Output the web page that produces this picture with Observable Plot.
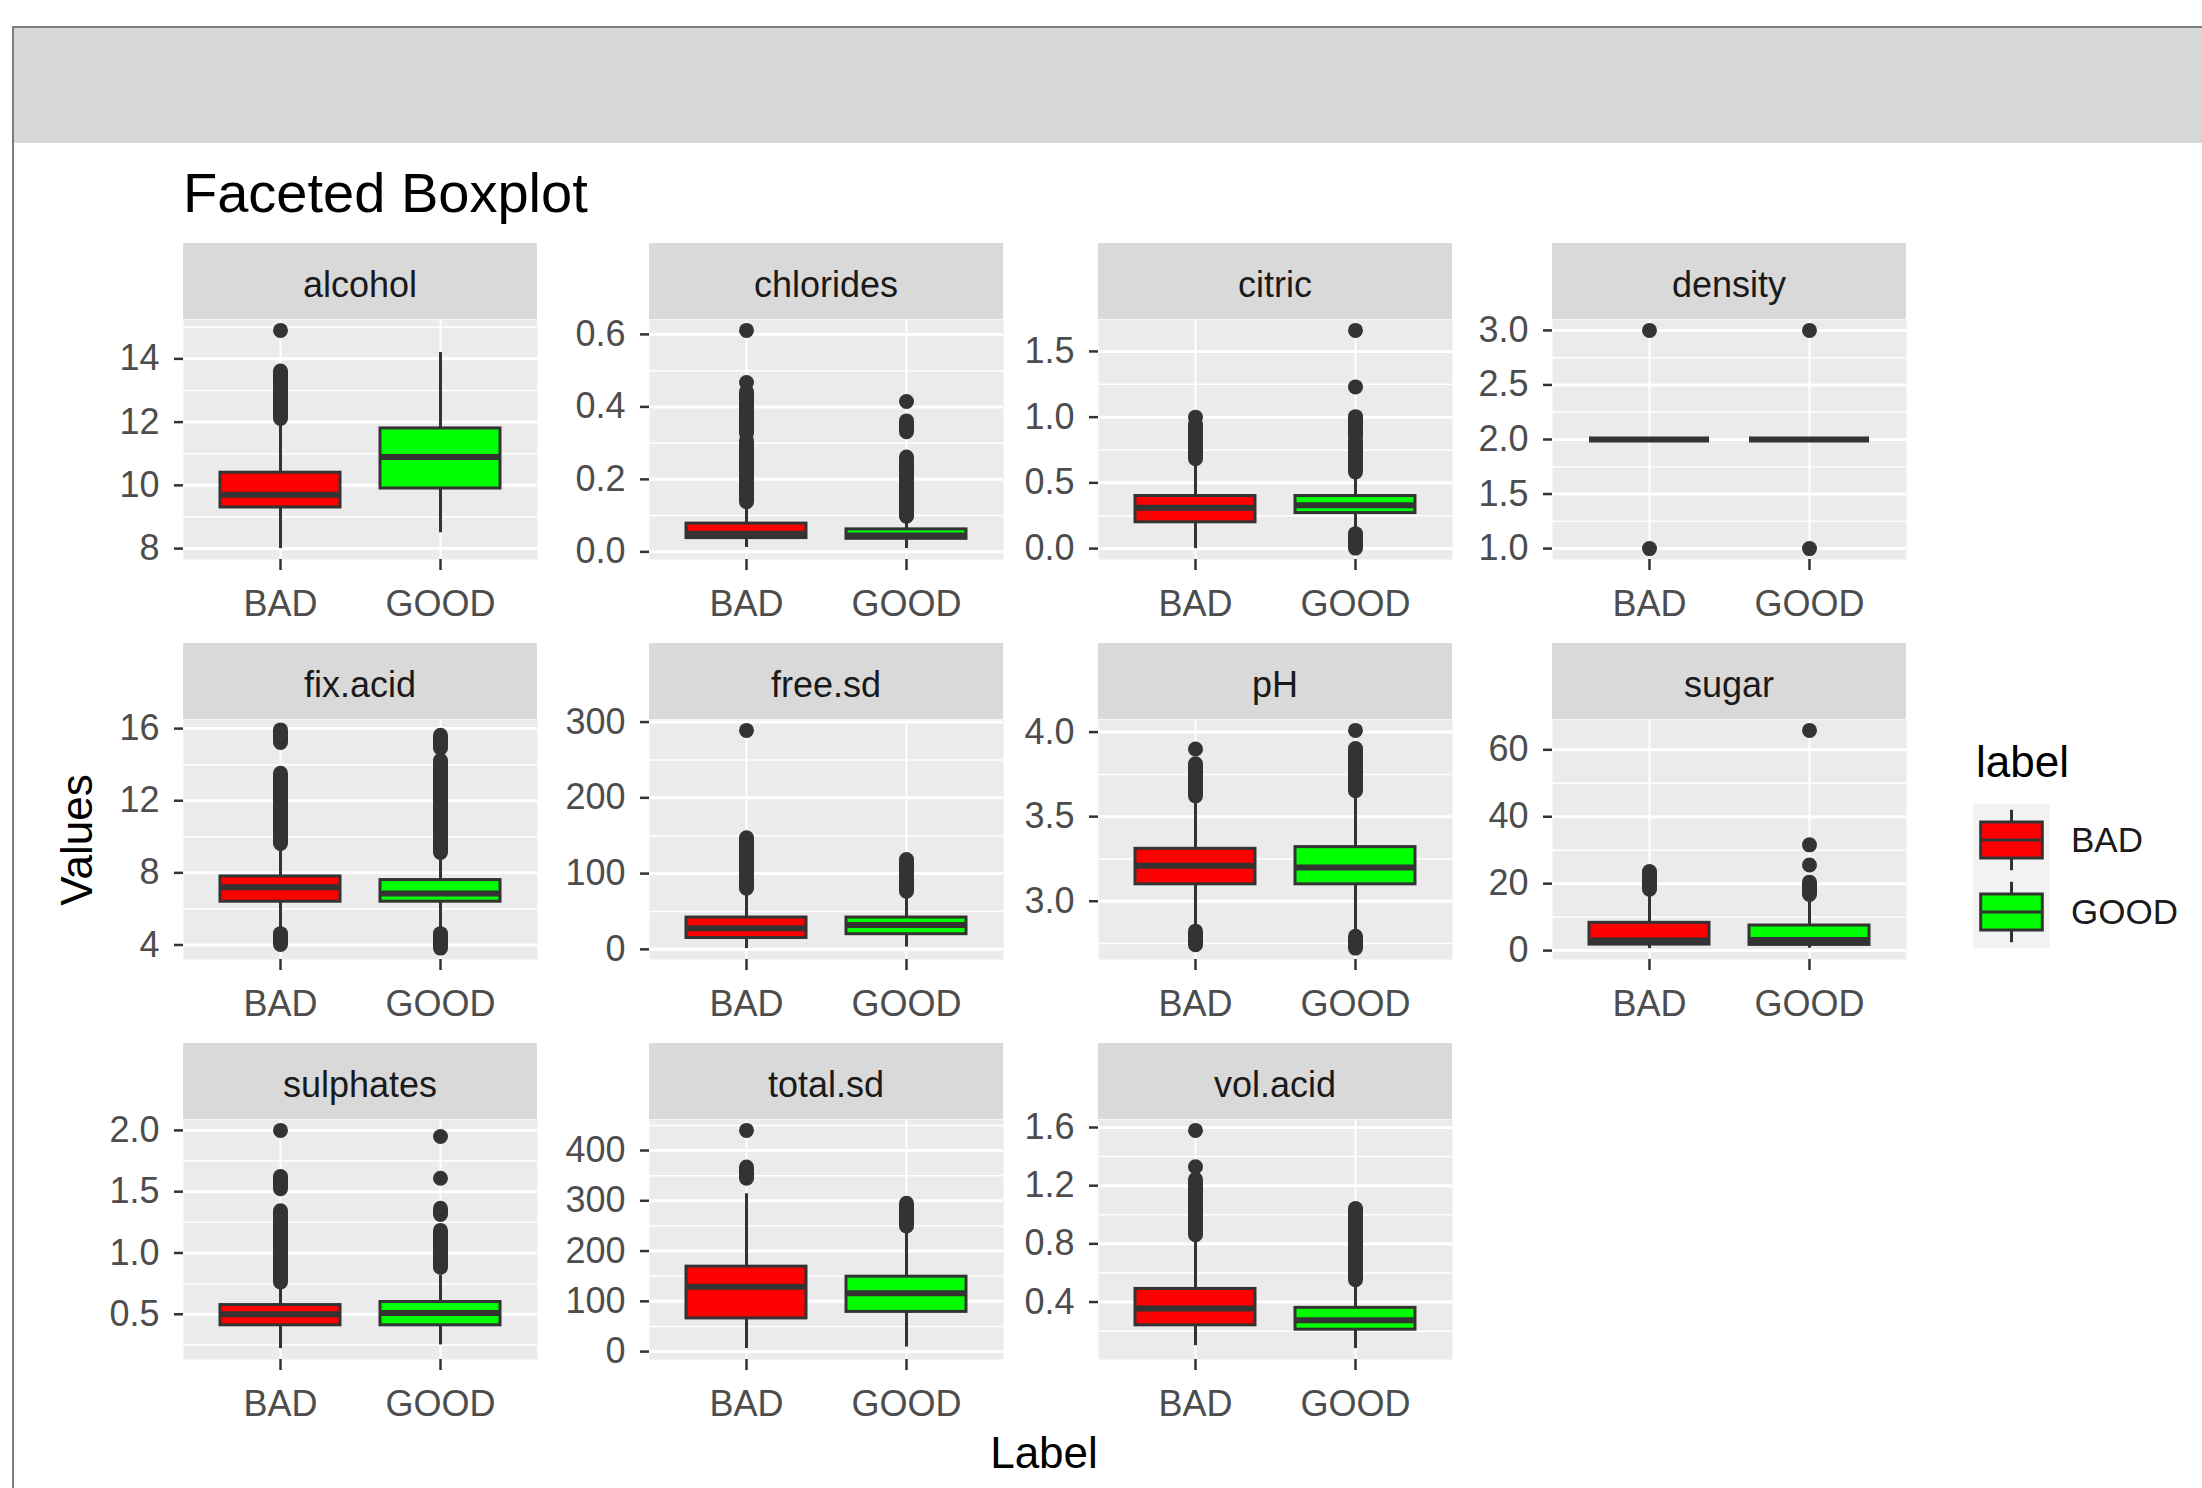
<!DOCTYPE html>
<html><head><meta charset="utf-8">
<script src="https://cdn.jsdelivr.net/npm/d3@7"></script>
<script src="https://cdn.jsdelivr.net/npm/@observablehq/plot@0.6"></script>
<style>
body{margin:0;background:#fff;font-family:"Liberation Sans",Arial,sans-serif;}
#root{position:relative;width:2202px;height:1488px;overflow:hidden;background:#fff;}
.abs{position:absolute;}
.strip{position:absolute;background:#D9D9D9;color:#1A1A1A;font-size:36px;display:flex;align-items:center;justify-content:center;box-sizing:border-box;padding-top:8px;}
</style></head><body><div id="root"></div><script>
// ---------------- data ----------------
const facets = ["alcohol","chlorides","citric","density","fix.acid","free.sd","pH","sugar","sulphates","total.sd","vol.acid"];
const groups = ["BAD","GOOD"];
const fillColors = ["#FF0000","#00FF00"];
// per facet: [BAD, GOOD]
const lowerWhisker = [[8.0,8.5],[0.012,0.009],[0.0,0.13],[2,2],[4.7,4.8],[1,3],[2.83,2.80],[0.6,0.7],[0.22,0.25],[6,9],[0.10,0.08]];
const q1 = [[9.3,9.9],[0.038,0.036],[0.20,0.27],[2,2],[6.4,6.4],[15,20],[3.10,3.10],[1.8,1.7],[0.41,0.41],[66,79],[0.24,0.21]];
const median = [[9.7,10.9],[0.050,0.045],[0.31,0.33],[2,2],[7.2,6.85],[28,32],[3.21,3.20],[3.0,3.2],[0.50,0.51],[129,116],[0.355,0.275]];
const q3 = [[10.4,11.8],[0.078,0.062],[0.40,0.40],[2,2],[7.8,7.6],[42,42],[3.31,3.32],[8.3,7.5],[0.575,0.60],[169,149],[0.49,0.36]];
const upperWhisker = [[12.0,14.2],[0.134,0.095],[0.66,0.55],[2,2],[9.5,9.0],[78,74],[3.60,3.63],[18.0,16.2],[0.74,0.82],[314,245],[0.83,0.525]];
// dense clusters of outliers (from, to)
const outlierRuns = [
  [[[12.1,13.6]],[]],
  [[[0.137,0.305],[0.325,0.44]],[[0.097,0.26],[0.33,0.36]]],
  [[[0.68,0.94]],[[0.0,0.11],[0.58,0.82],[0.85,1.0]]],
  [[],[]],
  [[[4.0,4.6],[9.6,13.5],[15.2,15.9]],[[3.8,4.6],[9.1,14.2],[14.9,15.6]]],
  [[[80,146.5]],[[76,118]]],
  [[[2.74,2.82],[3.62,3.81]],[[2.72,2.79],[3.65,3.90]]],
  [[[18.2,23.5]],[[16.6,20.3]]],
  [[[0.76,1.34],[1.52,1.62]],[[0.88,1.18],[1.31,1.36]]],
  [[[344,366]],[[249,294]]],
  [[[0.86,1.24]],[[0.55,1.04]]]
];
// isolated outliers
const outlierPoints = [
  [[14.9],[]],
  [[0.467,0.611],[0.415]],
  [[1.0],[1.23,1.66]],
  [[1,3],[1,3]],
  [[],[]],
  [[289],[]],
  [[3.90],[4.01]],
  [[],[25.6,31.6,65.8]],
  [[2.0],[1.61,1.95]],
  [[440],[]],
  [[1.33,1.58],[]]
];
const yTickLabels = [
  ["8","10","12","14"],
  ["0.0","0.2","0.4","0.6"],
  ["0.0","0.5","1.0","1.5"],
  ["1.0","1.5","2.0","2.5","3.0"],
  ["4","8","12","16"],
  ["0","100","200","300"],
  ["3.0","3.5","4.0"],
  ["0","20","40","60"],
  ["0.5","1.0","1.5","2.0"],
  ["0","100","200","300","400"],
  ["0.4","0.8","1.2","1.6"]
];
const titleText = "Faceted Boxplot";
const xTitle = "Label";
const yTitle = "Values";
const legendTitle = "label";

// ---------------- layout ----------------
const root = document.getElementById("root");
const colX = [183, 649, 1098, 1552];
const rowTop = [243, 643, 1043];
const stripH = 76, panelW = 354, panelH = 240;
const ML = 130, MR = 10, MB = 80;
const FONT = '"Liberation Sans", Arial, sans-serif';

function addDiv(css, text){ const d=document.createElement("div"); d.className="abs"; d.style.cssText=css; if(text!=null) d.textContent=text; root.appendChild(d); return d; }

// window chrome
addDiv("left:14px;top:26px;width:2188px;height:115px;background:#D7D7D7;border-top:2px solid #7d7d7d;");
addDiv("left:12px;top:26px;width:2px;height:1462px;background:#7d7d7d;");
// title
addDiv(`left:183px;top:165px;font-size:56px;color:#000;line-height:1;white-space:nowrap;font-family:${FONT}`, titleText);

facets.forEach((name, i) => {
  const col = i % 4, row = Math.floor(i / 4);
  const x0 = colX[col], top = rowTop[row];
  const s = addDiv(`left:${x0}px;top:${top}px;width:${panelW}px;height:${stripH}px;`, name);
  s.className = "strip";

  const stats = groups.map((g, j) => ({group: g, lw: lowerWhisker[i][j], q1: q1[i][j], med: median[i][j], q3: q3[i][j], uw: upperWhisker[i][j]}));
  const runs = groups.flatMap((g, j) => outlierRuns[i][j].map(([a, b]) => ({group: g, a, b})));
  const pts = groups.flatMap((g, j) => outlierPoints[i][j].map(v => ({group: g, v})));
  const all = [...stats.flatMap(r => [r.lw, r.uw]), ...runs.flatMap(r => [r.a, r.b]), ...pts.map(p => p.v)];
  const lo = d3.min(all), hi = d3.max(all), pad = (hi - lo) * 0.05;
  const dom = [lo - pad, hi + pad];
  const labels = yTickLabels[i];
  const ticks = labels.map(Number);
  const step = ticks[1] - ticks[0];
  const minor = [];
  for (let k = -1; k < ticks.length; k++) { const m = ticks[0] + (k + 0.5) * step; if (m >= dom[0] && m <= dom[1]) minor.push(m); }

  const svg = Plot.plot({
    width: ML + panelW + MR, height: panelH + MB,
    marginLeft: ML, marginRight: MR, marginTop: 0, marginBottom: MB,
    style: {fontFamily: FONT, fontSize: "36px", background: "transparent", overflow: "visible"},
    x: {type: "band", domain: groups, paddingInner: 0.25, paddingOuter: 0.225},
    y: {domain: dom},
    color: {domain: groups, range: fillColors},
    marks: [
      Plot.frame({fill: "#EBEBEB", stroke: "none"}),
      Plot.ruleY(minor, {stroke: "#FFFFFF", strokeWidth: 1.5}),
      Plot.ruleY(ticks, {stroke: "#FFFFFF", strokeWidth: 3}),
      Plot.ruleX(groups, {stroke: "#FFFFFF", strokeWidth: 2}),
      Plot.ruleX(stats, {x: "group", y1: "lw", y2: "uw", stroke: "#333333", strokeWidth: 3}),
      Plot.barY(stats, {x: "group", y1: "q1", y2: "q3", fill: "group", stroke: "#333333", strokeWidth: 3}),
      Plot.tickY(stats, {x: "group", y: "med", stroke: "#333333", strokeWidth: 6}),
      Plot.ruleX(runs, {x: "group", y1: "a", y2: "b", stroke: "#333333", strokeWidth: 15, strokeLinecap: "round"}),
      Plot.dot(pts, {x: "group", y: "v", r: 7.5, fill: "#333333", stroke: "none"}),
      Plot.axisY(ticks, {tickSize: 9, tickPadding: 15, stroke: "#333333", strokeWidth: 2.5, fill: "#4D4D4D", fontSize: 36, label: null,
        tickFormat: v => labels[ticks.indexOf(v)]}),
      Plot.axisX({tickSize: 11, tickPadding: 20, stroke: "#333333", strokeWidth: 2.5, fill: "#4D4D4D", fontSize: 36, label: null})
    ]
  });
  svg.style.position = "absolute";
  svg.style.left = (x0 - ML) + "px";
  svg.style.top = (top + stripH) + "px";
  svg.style.maxWidth = "none";
  root.appendChild(svg);
});

// axis titles
addDiv(`left:${1044 - 200}px;top:1428px;width:400px;text-align:center;font-size:44px;line-height:50px;color:#000;font-family:${FONT}`, xTitle);
addDiv(`left:${77 - 200}px;top:${840 - 25}px;width:400px;text-align:center;font-size:44px;line-height:50px;color:#000;transform:rotate(-90deg);font-family:${FONT}`, yTitle);

// legend
addDiv(`left:1976px;top:737px;font-size:44px;line-height:50px;color:#000;font-family:${FONT}`, legendTitle);
const keyTop = [804, 876], keyH = 72, keyW = 77, keyX = 1973;
groups.forEach((g, j) => {
  const ns = "http://www.w3.org/2000/svg";
  const sv = document.createElementNS(ns, "svg");
  sv.setAttribute("width", keyW); sv.setAttribute("height", keyH);
  sv.style.cssText = `position:absolute;left:${keyX}px;top:${keyTop[j]}px;`;
  sv.innerHTML = `<rect width="${keyW}" height="${keyH}" fill="#F2F2F2"/>
    <line x1="${keyW/2}" x2="${keyW/2}" y1="${keyH*0.08}" y2="${keyH*0.92}" stroke="#333" stroke-width="3"/>
    <rect x="${keyW*0.1}" y="${keyH*0.25}" width="${keyW*0.8}" height="${keyH*0.5}" fill="${fillColors[j]}" stroke="#333" stroke-width="3"/>
    <line x1="${keyW*0.1}" x2="${keyW*0.9}" y1="${keyH/2}" y2="${keyH/2}" stroke="#333" stroke-width="3"/>`;
  root.appendChild(sv);
  addDiv(`left:2071px;top:${keyTop[j] + keyH/2 - 20}px;font-size:35px;line-height:40px;color:#1A1A1A;font-family:${FONT}`, g);
});
</script></body></html>
